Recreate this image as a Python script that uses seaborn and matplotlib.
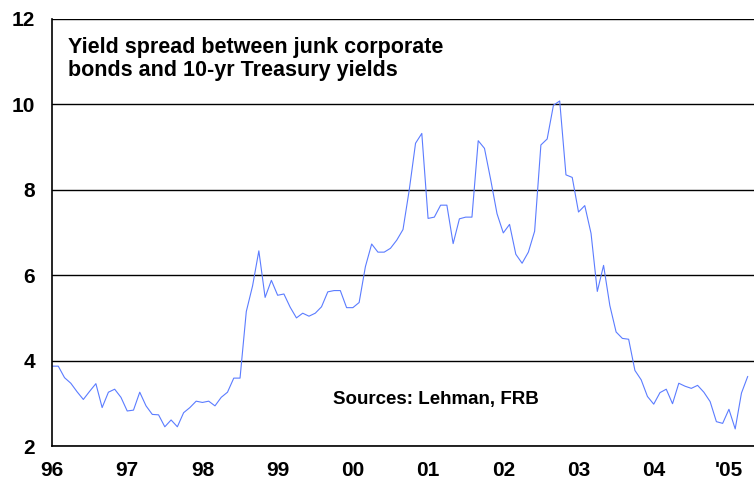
import numpy as np
import pandas as pd
import matplotlib
matplotlib.use('Agg')
import matplotlib.pyplot as plt
import seaborn as sns

# monthly junk - treasury spread, Jan 1996 .. Apr 2005
spread = [3.87, 3.87, 3.60, 3.47, 3.27, 3.09, 3.28, 3.46, 2.90, 3.26, 3.33, 3.14,
          2.82, 2.84, 3.26, 2.94, 2.74, 2.73, 2.45, 2.61, 2.45, 2.78, 2.90, 3.05,
          3.02, 3.05, 2.94, 3.14, 3.26, 3.59, 3.59, 5.15, 5.75, 6.57, 5.48, 5.88,
          5.53, 5.56, 5.25, 5.00, 5.11, 5.04, 5.11, 5.26, 5.61, 5.64, 5.64, 5.24,
          5.24, 5.36, 6.20, 6.73, 6.54, 6.54, 6.63, 6.82, 7.07, 8.00, 9.09, 9.32,
          7.33, 7.36, 7.64, 7.64, 6.74, 7.32, 7.36, 7.36, 9.15, 8.97, 8.23, 7.44,
          6.99, 7.19, 6.49, 6.28, 6.54, 7.03, 9.05, 9.19, 9.98, 10.08, 8.35, 8.29,
          7.48, 7.63, 6.98, 5.62, 6.23, 5.29, 4.67, 4.52, 4.50, 3.77, 3.55, 3.16,
          2.98, 3.25, 3.33, 2.99, 3.47, 3.40, 3.35, 3.42, 3.26, 3.04, 2.57, 2.53,
          2.86, 2.40, 3.24, 3.63]
year_labels = ['96', '97', '98', '99', '00', '01', '02', '03', '04', "'05"]
y_ticks = [2, 4, 6, 8, 10, 12]

df = pd.DataFrame({'t': 1996 + np.arange(len(spread)) / 12, 'spread': spread})

sns.set_style('white')
plt.rcParams['font.family'] = ['Liberation Sans', 'DejaVu Sans']
plt.rcParams['font.weight'] = 'bold'
plt.rcParams['text.color'] = 'black'
plt.rcParams['xtick.color'] = 'black'
plt.rcParams['ytick.color'] = 'black'

fig = plt.figure(figsize=(7.54, 4.92), dpi=100)
ax = fig.add_axes([52/754, 46/492, 702/754, 427/492])

sns.lineplot(data=df, x='t', y='spread', color='#5b7cff', linewidth=0.8, ax=ax)

ax.set_xlim(1996, 1996 + 112/12)
ax.set_ylim(2, 12)

# half-year ticks, labels only on the years
xt = [1996 + k/2 for k in range(19)]
xl = []
for k in range(19):
    xl.append(year_labels[k // 2] if k % 2 == 0 else '')
ax.set_xticks(xt)
ax.set_xticklabels(xl, fontsize=15, fontweight='bold')
ax.set_yticks(y_ticks)
ax.set_yticklabels([str(v) for v in y_ticks], fontsize=15, fontweight='bold')

ax.tick_params(axis='x', direction='inout', length=14, width=1, color='black', pad=4)
ax.tick_params(axis='y', direction='out', length=5, width=1, color='black', pad=7)

ax.yaxis.grid(True, color='black', linewidth=1)
ax.xaxis.grid(False)
ax.set_axisbelow(True)
for s in ['top', 'right']:
    ax.spines[s].set_visible(False)
for s in ['left', 'bottom']:
    ax.spines[s].set_color('black')
    ax.spines[s].set_linewidth(1.2)
ax.set_xlabel('')
ax.set_ylabel('')

ax.text(0.023, 0.958, 'Yield spread between junk corporate\nbonds and 10-yr Treasury yields',
        transform=ax.transAxes, fontsize=15.5, fontweight='bold', va='top', ha='left',
        linespacing=1.12)
ax.text(0.40, 0.108, 'Sources: Lehman, FRB', transform=ax.transAxes,
        fontsize=13.5, fontweight='bold', va='center', ha='left')

fig.savefig('out.png', dpi=100)
